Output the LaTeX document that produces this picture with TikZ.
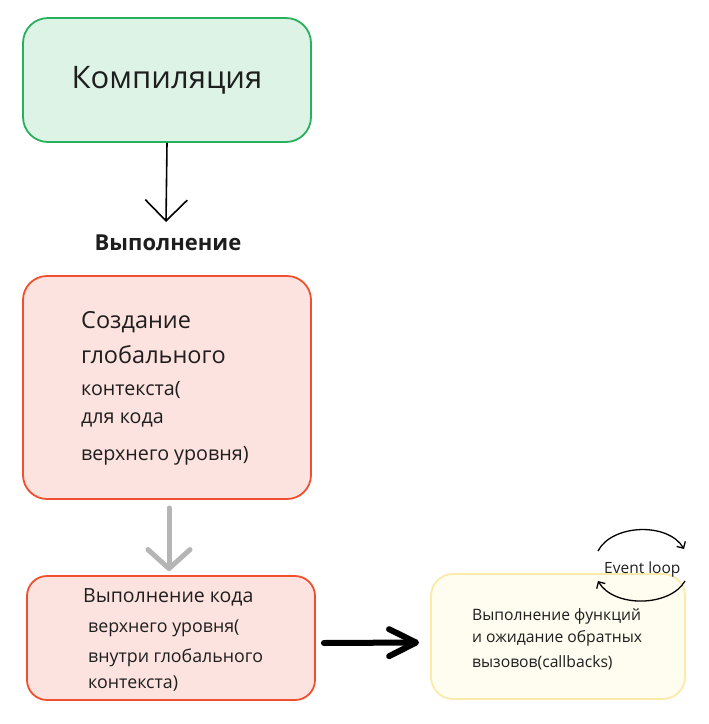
\documentclass[tikz,border=0pt]{standalone}
\usepackage{fontspec}
\setmainfont{Open Sans}
\usepackage{tikz}
\usetikzlibrary{arrows.meta}

\definecolor{cgreen}{HTML}{27B15C}
\definecolor{cgreenfill}{HTML}{DDF3E5}
\definecolor{cred}{HTML}{F0502E}
\definecolor{credfill}{HTML}{FDE3DF}
\definecolor{cyellow}{HTML}{FDE9A8}
\definecolor{cyellowfill}{HTML}{FFFDF0}
\definecolor{cgray}{HTML}{B5B5B5}
\definecolor{ctext}{HTML}{1E1E1E}
\newcommand{\txtsize}[1]{\fontsize{#1}{#1}\selectfont}

\begin{document}
\begin{tikzpicture}[x=1pt,y=-1pt,
    box/.style={line width=1.8pt, inner sep=0pt, text=ctext},
    greenbox/.style={box, draw=cgreen, fill=cgreenfill, rounded corners=25pt},
    redbox/.style={box, draw=cred, fill=credfill, rounded corners=24pt},
    yellowbox/.style={box, draw=cyellow, fill=cyellowfill, rounded corners=22pt},
    line/.style={anchor=base west, inner sep=0pt, text=ctext},
    thinarrow/.style={line width=1.6pt, -{Straight Barb[length=21pt,width=42pt]}},
    grayarrow/.style={draw=cgray, line width=5pt, line cap=round,
        -{Straight Barb[length=19pt,width=42pt,round]}},
    fatarrow/.style={line width=6pt, line cap=round,
        -{Straight Barb[length=27pt,width=27pt,round]}},
    looparrow/.style={line width=1.3pt, -{Straight Barb[length=5pt,width=10pt]}}]
     \useasboundingbox (0,0) rectangle (709,724);

     % boxes
     \node[greenbox, minimum width=288pt, minimum height=124pt] (compile) at (167,80)
      {\txtsize{31}Компиляция};
     \node[redbox, minimum width=288pt, minimum height=223pt] (create) at (167,387.5) {};
     \node[redbox, minimum width=288pt, minimum height=124pt, rounded corners=20pt]
      (run) at (171,638) {};
     \node[yellowbox, minimum width=254pt, minimum height=125pt] (loop) at (558,636.5) {};

     % texts
     \node[line, anchor=base] (exec) at (168,250) {\txtsize{22}\bfseries Выполнение};
     \node[line] (create1) at (81,328) {\txtsize{23.5}Создание};
     \node[line] (create2) at (81,363) {\txtsize{23.5}глобального};
     \node[line] (create3) at (81,395) {\txtsize{19.7}контекста(};
     \node[line] (create4) at (81,423) {\txtsize{19.7}для кода};
     \node[line] (create5) at (81,460) {\txtsize{19.7}верхнего уровня)};
     \node[line] (run1) at (83,602) {\txtsize{19.5}Выполнение кода};
     \node[line] (run2) at (88,632) {\txtsize{17.8}верхнего уровня(};
     \node[line] (run3) at (88,662) {\txtsize{17.8}внутри глобального};
     \node[line] (run4) at (88,688) {\txtsize{17.8}контекста)};
     \node[line] (loop1) at (472,620) {\txtsize{15.7}Выполнение функций};
     \node[line] (loop2) at (472,642) {\txtsize{15.7}и ожидание обратных};
     \node[line] (loop3) at (472,667) {\txtsize{15.7}вызовов(callbacks)};
     \node[line] (eventloop) at (604,573) {\txtsize{15.5}Event loop};

     % connectors
     \coordinate (tip1) at (166,222);
     \draw[thinarrow] (compile.south) -- (tip1);
     \draw[grayarrow, shorten <=8pt, shorten >=4pt]
      ([xshift=2pt]create.south) -- ([xshift=-2pt]run.north);
     \draw[fatarrow] ([xshift=8pt,yshift=-5pt]run.east) -- ([xshift=-11pt,yshift=-6pt]loop.west);

     % event loop
     \coordinate (l1) at (598,551);
     \coordinate (l2) at (684,549);
     \coordinate (l3) at (685,581);
     \coordinate (l4) at (598,581);
     \draw[looparrow] (l1) .. controls (612,524) and (668,522) .. (l2);
     \draw[looparrow] (l3) .. controls (670,607) and (614,608) .. (l4);
    \end{tikzpicture}
\end{document}
